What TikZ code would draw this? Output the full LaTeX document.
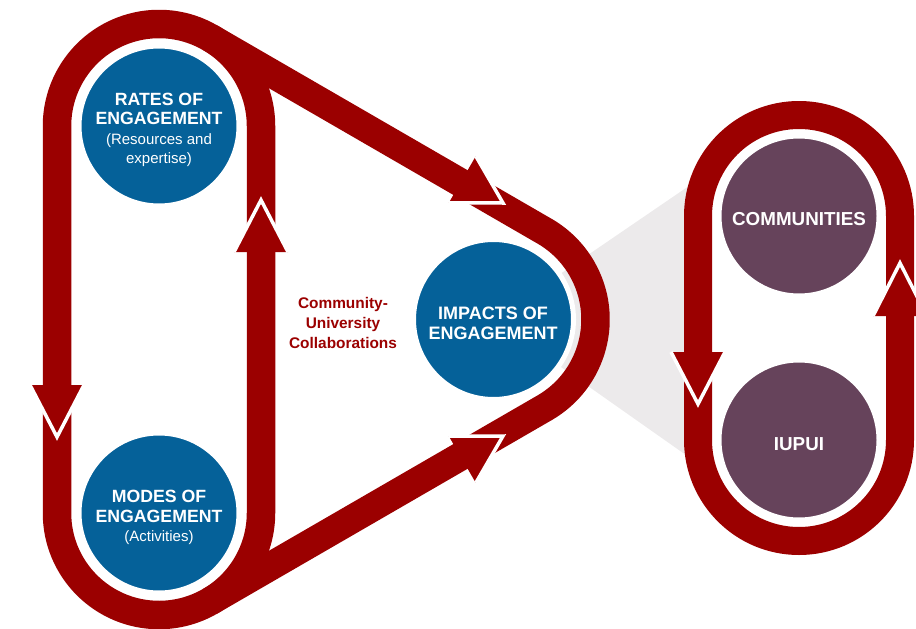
\documentclass[tikz,border=0pt]{standalone}
\usepackage{fontspec}
\setmainfont{Liberation Sans}
\usetikzlibrary{calc}
\definecolor{bandred}{RGB}{155,0,0}
\definecolor{engblue}{RGB}{5,97,153}
\definecolor{plum}{RGB}{102,67,91}
\definecolor{wedgegray}{RGB}{236,234,235}
\newcommand{\engsub}{\mdseries\fontsize{15}{19.5}\selectfont}
\tikzset{
  band/.style={draw=bandred, line width=28.5pt, line cap=butt, line join=round},
  bubble/.style={circle, draw=white, line width=5pt, minimum size=160pt, inner sep=0pt},
  titletext/.style={text=white, align=center, inner sep=0pt, font=\bfseries\fontsize{17.7}{19.5}\selectfont},
  arrowedge/.style={draw=white, line width=3.5pt, line join=miter},
  pics/tiphead/.style={code={
    \fill[bandred] (0pt,0pt) -- (-#1pt,27pt) -- (-#1pt,-27pt) -- cycle;
    \draw[arrowedge] (-#1pt,27pt) -- (0pt,0pt) -- (-#1pt,-27pt);
  }}
}
\begin{document}
\begin{tikzpicture}[x=1pt,y=1pt]
\useasboundingbox (0,0) rectangle (916,-629);
\clip (0,0) rectangle (916,-629);
% centres
\coordinate (cR) at (159,-126);
\coordinate (cM) at (159,-513);
\coordinate (cI) at (493.5,-319.5);
\coordinate (cC) at (799,-216);
\coordinate (cU) at (799,-440);
\coordinate (wTop) at (700,-178.4);
\coordinate (wBot) at (700,-464.9);
% grey wedge
\fill[wedgegray] (cI) -- (wTop) -- (wBot) -- cycle;
% circles
\node[bubble, fill=engblue] (rates) at (cR) {};
\node[bubble, fill=engblue] (modes) at (cM) {};
\node[bubble, fill=engblue] (impacts) at (cI) {};
\node[bubble, fill=plum] (communities) at (cC) {};
\node[bubble, fill=plum] (iupui) at (cU) {};
% main loop
\draw[band] ($(rates.center)+(60:102pt)$) arc[start angle=60,end angle=180,radius=102pt]
  -- ($(modes.center)+(180:102pt)$) arc[start angle=180,end angle=300,radius=102pt]
  -- ($(impacts.center)+(-60:102pt)$) arc[start angle=-60,end angle=60,radius=102pt]
  -- cycle;
\draw[band] ($(rates.center)+(60:102pt)$) arc[start angle=60,end angle=0,radius=102pt]
  -- ($(modes.center)+(0:102pt)$) arc[start angle=0,end angle=-60,radius=102pt];
% right loop
\draw[band, line width=28pt] ($(communities.center)+(0:101pt)$) arc[start angle=0,end angle=180,radius=101pt]
  -- ($(iupui.center)+(180:101pt)$) arc[start angle=180,end angle=360,radius=101pt]
  -- cycle;
% arrow heads
\pic[rotate=-90] (hd1) at (57,-437) {tiphead=52};
\pic[rotate=90] (hd2) at (261,-200) {tiphead=52};
\pic[rotate=-30] (hd3) at (503,-203) {tiphead=47};
\pic[rotate=30] (hd4) at (503,-436) {tiphead=47};
\pic[rotate=-90] (hd5) at (698,-404) {tiphead=52};
\pic[rotate=90] (hd6) at (900,-263) {tiphead=53};
% texts
\node[titletext] (ratestext) at (159,-130) {RATES OF\\ENGAGEMENT\\{\engsub (Resources and}\\{\engsub expertise)}};
\node[titletext] (modestext) at (159,-517.5) {MODES OF\\ENGAGEMENT\\{\engsub (Activities)}};
\node[titletext, font=\bfseries\fontsize{18}{20}\selectfont] (impactstext) at (493,-323.5) {IMPACTS OF\\ENGAGEMENT};
\node[titletext, font=\bfseries\fontsize{18.8}{20}\selectfont] (commtext) at (799,-219) {COMMUNITIES};
\node[titletext, font=\bfseries\fontsize{18.8}{20}\selectfont] (iupuitext) at (799,-444.5) {IUPUI};
\node[text=bandred, align=center, inner sep=0pt, font=\bfseries\fontsize{15.4}{20}\selectfont] (collab) at (343,-322.5) {Community-\\University\\Collaborations};
\end{tikzpicture}
\end{document}
